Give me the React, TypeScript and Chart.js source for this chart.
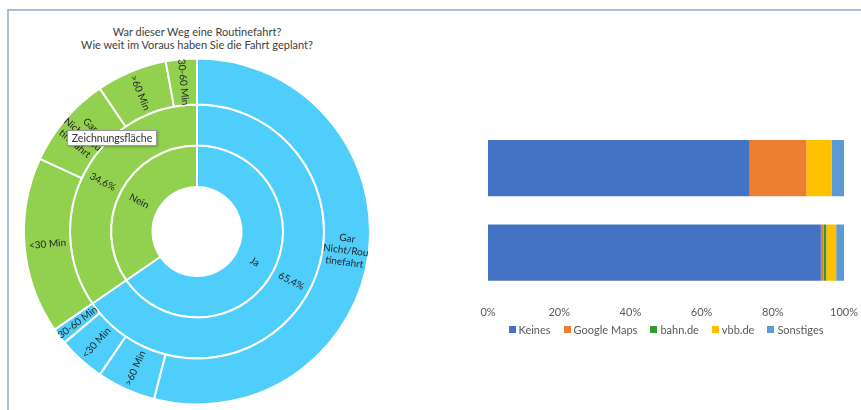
import React, { useEffect, useRef } from "react";
import { Chart, registerables } from "chart.js";

Chart.register(...registerables);

// ---------- data ----------
const titleLines = [
  "War dieser Weg eine Routinefahrt?",
  "Wie weit im Voraus haben Sie die Fahrt geplant?",
];

// sunburst (clockwise from 12 o'clock)
const innerLabels = ["Ja", "Nein"];
const innerValues = [65.4, 34.6];
const middleLabels = ["65,4%", "34,6%"];
const middleValues = [65.4, 34.6];
const outerLabels = [
  "Gar\nNicht/Rou\ntinefahrt",
  ">60 Min",
  "<30 Min",
  "30-60 Min",
  "<30 Min",
  "Gar\nNicht/Rou\ntinefahrt",
  ">60 Min",
  "30-60 Min",
];
const outerGroup = ["Ja", "Ja", "Ja", "Ja", "Nein", "Nein", "Nein", "Nein"];
const outerValues = [54.0, 5.5, 4.4, 1.5, 16.5, 8.6, 6.6, 2.9];

// stacked 100% bars
const barCategories = ["", ""];
const barSeries = ["Keines", "Google Maps", "bahn.de", "vbb.de", "Sonstiges"];
const keines = [73.5, 93.5];
const googleMaps = [15.9, 0.8];
const bahnDe = [0, 0.7];
const vbbDe = [7.1, 2.8];
const sonstiges = [3.5, 2.2];
const xTickStep = 20;

// ---------- styles ----------
const FONT = "Lato, 'Open Sans', sans-serif";
const GREEN = "#92D050";
const BLUE = "#4FCDFB";
const groupColor: Record<string, string> = { Ja: BLUE, Nein: GREEN };
const barColors = ["#4472C4", "#ED7D31", "#2E9B35", "#FFC000", "#5B9BD5"];

const sunburstLabelPlugin = {
  id: "sunburstLabels",
  afterDatasetsDraw(chart: any) {
    const ctx = chart.ctx;
    const allLabels = [outerLabels, middleLabels, innerLabels];
    ctx.save();
    ctx.font = `10px ${FONT}`;
    ctx.fillStyle = "#262626";
    ctx.textAlign = "center";
    ctx.textBaseline = "middle";
    chart.data.datasets.forEach((_ds: any, di: number) => {
      const meta = chart.getDatasetMeta(di);
      meta.data.forEach((arc: any, i: number) => {
        const p = arc.getProps(
          ["x", "y", "startAngle", "endAngle", "innerRadius", "outerRadius"],
          true
        );
        const a = (p.startAngle + p.endAngle) / 2;
        const r = (p.innerRadius + p.outerRadius) / 2;
        const cx = p.x + Math.cos(a) * r;
        const cy = p.y + Math.sin(a) * r;
        let rot = Math.atan2(Math.sin(a), Math.cos(a));
        if (rot > Math.PI / 2) rot -= Math.PI;
        if (rot < -Math.PI / 2) rot += Math.PI;
        const lines = String(allLabels[di][i]).split("\n");
        const lh = 12;
        ctx.save();
        ctx.translate(cx, cy);
        ctx.rotate(rot);
        lines.forEach((ln, k) => {
          ctx.fillText(ln, 0, (k - (lines.length - 1) / 2) * lh);
        });
        ctx.restore();
      });
    });
    ctx.restore();
  },
};

// legend drawn below the x tick labels, Excel-like spacing
const barLegendPlugin = {
  id: "barLegend",
  afterDraw(chart: any) {
    const ctx = chart.ctx;
    const area = chart.chartArea;
    const box = 7;
    const gap = 3;
    const spacing = 13;
    ctx.save();
    ctx.font = `11px ${FONT}`;
    ctx.textBaseline = "middle";
    ctx.textAlign = "left";
    const items = chart.data.datasets.map((d: any) => ({
      text: String(d.label),
      color: d.backgroundColor,
      w: box + gap + ctx.measureText(String(d.label)).width,
    }));
    const total =
      items.reduce((s: number, it: any) => s + it.w, 0) +
      spacing * (items.length - 1);
    let x = (area.left + area.right) / 2 - total / 2;
    const y = area.bottom + 35;
    items.forEach((it: any) => {
      ctx.fillStyle = it.color;
      ctx.fillRect(Math.round(x), Math.round(y - box / 2), box, box);
      ctx.fillStyle = "#595959";
      ctx.fillText(it.text, x + box + gap, y + 0.5);
      x += it.w + spacing;
    });
    ctx.restore();
  },
};

export default function App() {
  const pieRef = useRef<HTMLCanvasElement | null>(null);
  const barRef = useRef<HTMLCanvasElement | null>(null);

  useEffect(() => {
    Chart.defaults.font.family = FONT;
    const pie = new Chart(pieRef.current as HTMLCanvasElement, {
      type: "doughnut",
      data: {
        labels: outerLabels,
        datasets: [
          {
            data: outerValues,
            backgroundColor: outerGroup.map((g) => groupColor[g]),
            borderColor: "#ffffff",
            borderWidth: 2,
            weight: 46,
          },
          {
            data: middleValues,
            backgroundColor: [BLUE, GREEN],
            borderColor: "#ffffff",
            borderWidth: 2,
            weight: 41,
          },
          {
            data: innerValues,
            backgroundColor: [BLUE, GREEN],
            borderColor: "#ffffff",
            borderWidth: 2,
            weight: 41.5,
          },
        ],
      } as any,
      options: {
        animation: false,
        responsive: false,
        maintainAspectRatio: false,
        radius: 173,
        cutout: "25.72%",
        layout: { padding: 0 },
        plugins: {
          legend: { display: false },
          tooltip: { enabled: false },
          title: { display: false },
        },
      } as any,
      plugins: [sunburstLabelPlugin],
    });

    const seriesData = [keines, googleMaps, bahnDe, vbbDe, sonstiges];
    const bar = new Chart(barRef.current as HTMLCanvasElement, {
      type: "bar",
      data: {
        labels: barCategories,
        datasets: barSeries.map((name, i) => ({
          label: name,
          data: seriesData[i],
          backgroundColor: barColors[i],
          borderWidth: 0,
          categoryPercentage: 0.667,
          barPercentage: 1,
        })),
      },
      options: {
        indexAxis: "y",
        animation: false,
        responsive: false,
        maintainAspectRatio: false,
        layout: { padding: { left: 48, right: 15, top: 26, bottom: 88 } },
        scales: {
          x: {
            stacked: true,
            min: 0,
            max: 100,
            ticks: {
              stepSize: xTickStep,
              callback: (v: any) => `${v}%`,
              color: "#595959",
              font: { size: 11, family: FONT },
            },
            grid: { display: false },
            border: { display: false },
          },
          y: { stacked: true, display: false },
        },
        plugins: {
          legend: { display: false },
          tooltip: { enabled: false },
        },
      } as any,
      plugins: [barLegendPlugin],
    });

    return () => {
      pie.destroy();
      bar.destroy();
    };
  }, []);

  return (
    <div
      style={{
        position: "absolute",
        left: 0,
        top: 0,
        width: 861,
        height: 410,
        overflow: "hidden",
        background: "#ffffff",
        fontFamily: FONT,
      }}
    >
      <div
        style={{
          position: "absolute",
          left: 7,
          top: 9,
          width: 900,
          height: 450,
          borderTop: "2px solid #A9BCD8",
          borderLeft: "2px solid #A9BCD8",
        }}
      />
      <div
        style={{
          position: "absolute",
          left: 0,
          top: 25,
          width: 394,
          textAlign: "center",
          fontSize: 11,
          lineHeight: "13px",
          color: "#404040",
        }}
      >
        {titleLines.map((t) => (
          <div key={t}>{t}</div>
        ))}
      </div>
      <canvas
        ref={pieRef}
        width={360}
        height={361}
        style={{ position: "absolute", left: 17, top: 51 }}
      />
      <canvas
        ref={barRef}
        width={421}
        height={310}
        style={{ position: "absolute", left: 440, top: 100 }}
      />
      <div
        style={{
          position: "absolute",
          left: 67,
          top: 130,
          width: 90,
          height: 16,
          boxSizing: "border-box",
          background: "#fbfbfb",
          border: "1px solid #9a9a9a",
          boxShadow: "1px 1px 2px rgba(0,0,0,0.25)",
          fontSize: 10.5,
          lineHeight: "14px",
          textAlign: "center",
          color: "#333333",
        }}
      >
        Zeichnungsfläche
      </div>
    </div>
  );
}
